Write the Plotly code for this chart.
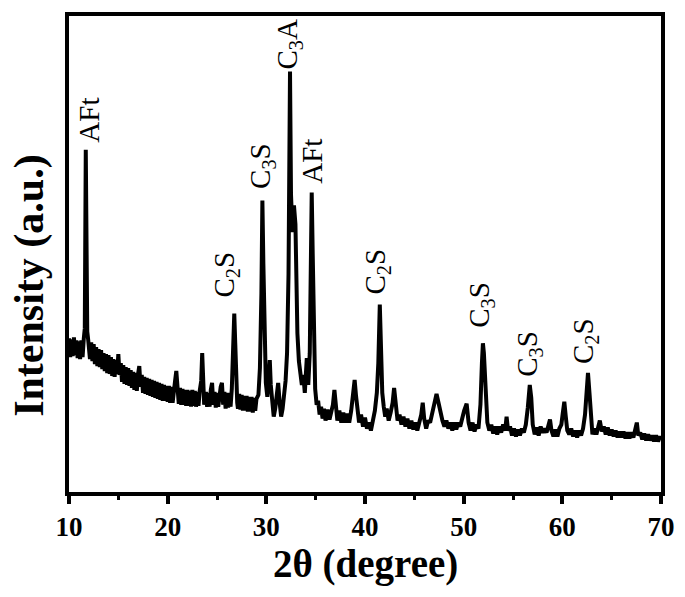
import plotly.graph_objects as go

pattern = [
    (10.000, 155), (10.125, 136), (10.250, 154), (10.375, 137), (10.500, 156), (10.625, 138),
    (10.750, 153), (10.875, 135), (11.000, 152), (11.125, 134), (11.250, 153), (11.375, 136),
    (11.500, 155), (11.600, 165), (11.700, 345), (11.780, 210), (11.850, 162), (11.950, 153),
    (12.125, 134), (12.250, 151), (12.375, 132), (12.500, 149), (12.625, 129), (12.750, 146),
    (12.875, 127), (13.000, 144), (13.125, 126), (13.250, 143), (13.375, 124), (13.500, 140),
    (13.625, 122), (13.750, 139), (13.875, 120), (14.000, 138), (14.125, 119), (14.250, 136),
    (14.375, 117), (14.500, 134), (14.625, 116), (14.750, 133), (14.875, 119), (15.000, 139),
    (15.125, 118), (15.250, 130), (15.375, 111), (15.500, 128), (15.625, 109), (15.750, 126),
    (15.875, 108), (16.000, 125), (16.125, 107), (16.250, 123), (16.375, 105), (16.500, 121),
    (16.625, 103), (16.750, 120), (16.875, 102), (17.000, 119), (17.125, 127), (17.250, 106),
    (17.375, 118), (17.500, 100), (17.625, 116), (17.750, 99), (17.875, 115), (18.000, 98),
    (18.125, 114), (18.250, 97), (18.375, 113), (18.500, 96), (18.625, 112), (18.750, 95),
    (18.875, 111), (19.000, 94), (19.125, 110), (19.250, 93), (19.375, 109), (19.500, 92),
    (19.625, 108), (19.750, 92), (19.875, 107), (20.000, 91), (20.125, 107), (20.250, 90),
    (20.375, 106), (20.500, 90), (20.625, 107), (20.750, 112), (20.875, 122), (21.000, 98),
    (21.125, 89), (21.250, 105), (21.375, 88), (21.500, 104), (21.625, 88), (21.750, 103),
    (21.875, 87), (22.000, 103), (22.125, 87), (22.250, 102), (22.375, 86), (22.500, 103),
    (22.625, 87), (22.750, 102), (22.875, 86), (23.000, 101), (23.125, 87), (23.250, 102),
    (23.400, 112), (23.500, 140), (23.600, 104), (23.700, 88), (23.875, 101), (24.000, 86),
    (24.125, 100), (24.250, 86), (24.375, 103), (24.500, 110), (24.625, 88), (24.750, 101),
    (24.875, 85), (25.000, 100), (25.125, 86), (25.250, 101), (25.375, 106), (25.500, 110),
    (25.625, 88), (25.750, 101), (25.875, 84), (26.000, 100), (26.125, 85), (26.250, 100),
    (26.375, 86), (26.500, 104), (26.600, 130), (26.750, 180), (26.850, 150), (26.950, 104),
    (27.050, 90), (27.125, 84), (27.250, 99), (27.375, 83), (27.500, 98), (27.625, 82),
    (27.750, 97), (27.875, 82), (28.000, 97), (28.125, 81), (28.250, 96), (28.375, 81),
    (28.500, 96), (28.625, 80), (28.750, 95), (28.875, 82), (29.000, 94), (29.200, 98),
    (29.350, 125), (29.500, 200), (29.600, 294), (29.700, 230), (29.800, 150), (29.950, 110),
    (30.100, 96), (30.250, 115), (30.350, 133), (30.450, 108), (30.600, 86), (30.750, 76),
    (30.900, 84), (31.050, 94), (31.200, 110), (31.350, 90), (31.500, 76), (31.650, 84),
    (31.800, 96), (31.950, 112), (32.100, 140), (32.250, 220), (32.400, 424), (32.500, 300),
    (32.650, 262), (32.800, 289), (32.950, 270), (33.050, 200), (33.150, 160), (33.300, 132),
    (33.450, 122), (33.600, 108), (33.750, 118), (33.900, 100), (34.100, 135), (34.250, 108),
    (34.400, 140), (34.500, 220), (34.600, 302), (34.700, 240), (34.800, 150), (34.950, 104),
    (35.100, 88), (35.250, 92), (35.400, 78), (35.550, 86), (35.700, 74), (35.850, 84),
    (36.000, 72), (36.200, 83), (36.400, 73), (36.600, 84), (36.750, 88), (36.900, 103),
    (37.050, 82), (37.200, 72), (37.400, 82), (37.600, 70), (37.800, 80), (38.000, 70),
    (38.200, 79), (38.400, 70), (38.600, 82), (38.800, 98), (38.950, 113), (39.100, 96),
    (39.250, 80), (39.400, 70), (39.600, 78), (39.800, 66), (40.000, 75), (40.200, 64),
    (40.400, 70), (40.600, 62), (40.800, 72), (41.000, 82), (41.200, 100), (41.350, 130),
    (41.500, 189), (41.600, 150), (41.750, 100), (41.900, 86), (42.050, 76), (42.200, 84),
    (42.400, 72), (42.600, 80), (42.800, 90), (42.950, 105), (43.100, 86), (43.300, 72),
    (43.500, 78), (43.700, 68), (43.900, 76), (44.100, 66), (44.300, 74), (44.500, 64),
    (44.700, 72), (44.900, 63), (45.100, 70), (45.300, 62), (45.500, 70), (45.700, 78),
    (45.850, 90), (46.000, 74), (46.200, 64), (46.400, 72), (46.600, 70), (46.800, 80),
    (47.000, 90), (47.250, 99), (47.450, 90), (47.650, 80), (47.850, 72), (48.050, 66),
    (48.250, 72), (48.450, 64), (48.650, 70), (48.850, 62), (49.050, 70), (49.250, 63),
    (49.450, 70), (49.650, 66), (49.850, 76), (50.050, 82), (50.300, 89), (50.500, 70),
    (50.700, 62), (50.900, 70), (51.100, 61), (51.300, 68), (51.500, 64), (51.700, 88),
    (51.850, 130), (51.950, 150), (52.050, 140), (52.200, 100), (52.400, 70), (52.600, 62),
    (52.800, 68), (53.000, 59), (53.200, 66), (53.400, 58), (53.600, 66), (53.800, 60),
    (54.000, 68), (54.200, 62), (54.350, 76), (54.500, 62), (54.700, 66), (54.900, 57),
    (55.100, 64), (55.300, 56), (55.500, 63), (55.700, 57), (55.900, 64), (56.100, 60),
    (56.300, 68), (56.500, 85), (56.700, 108), (56.850, 95), (57.000, 68), (57.200, 58),
    (57.400, 65), (57.600, 57), (57.800, 66), (58.000, 60), (58.200, 64), (58.400, 60),
    (58.600, 70), (58.750, 73), (58.900, 62), (59.100, 56), (59.300, 63), (59.500, 56),
    (59.700, 64), (59.900, 68), (60.050, 80), (60.200, 91), (60.350, 76), (60.500, 62),
    (60.700, 58), (60.900, 64), (61.100, 56), (61.300, 62), (61.500, 55), (61.700, 62),
    (61.900, 57), (62.100, 64), (62.300, 78), (62.450, 100), (62.600, 120), (62.750, 100),
    (62.900, 70), (63.050, 58), (63.250, 64), (63.450, 58), (63.650, 66), (63.800, 72),
    (64.000, 61), (64.200, 66), (64.400, 58), (64.600, 65), (64.800, 57), (65.000, 63),
    (65.200, 56), (65.400, 62), (65.600, 55), (65.800, 61), (66.000, 55), (66.200, 61),
    (66.400, 54), (66.600, 60), (66.800, 54), (67.000, 60), (67.200, 55), (67.400, 65),
    (67.550, 70), (67.700, 57), (67.900, 60), (68.100, 53), (68.300, 59), (68.500, 52),
    (68.700, 58), (68.900, 52), (69.100, 57), (69.300, 51), (69.500, 57), (69.700, 51),
    (69.900, 56), (70.000, 53),
]
two_theta = [p[0] for p in pattern]
intensity = [p[1] for p in pattern]

# phase labels: text, label centre (degree), label base (a.u.)
label_text = ["AFt", "C<sub>2</sub>S", "C<sub>3</sub>S", "C<sub>3</sub>A", "AFt",
              "C<sub>2</sub>S", "C<sub>3</sub>S", "C<sub>3</sub>S", "C<sub>2</sub>S"]
label_x = [12.05, 25.9, 29.5, 32.2, 34.6, 41.2, 51.8, 56.6, 62.3]
label_y = [350, 194, 304, 424, 309, 197, 164, 114, 127]

x_ticks = [10, 20, 30, 40, 50, 60, 70]

serif = "Liberation Serif, Times New Roman, serif"

fig = go.Figure()
fig.add_trace(go.Scatter(
    x=two_theta, y=intensity, mode="lines",
    line=dict(color="black", width=4),
    showlegend=False, hoverinfo="skip",
))

for t, lx, ly in zip(label_text, label_x, label_y):
    fig.add_annotation(
        x=lx, y=ly, xref="x", yref="y", text=t, showarrow=False,
        textangle=-90, xanchor="center", yanchor="bottom",
        font=dict(family=serif, size=29, color="black"),
    )

fig.add_annotation(
    x=-0.066, y=0.435, xref="paper", yref="paper",
    text="<b>Intensity (a.u.)</b>", showarrow=False, textangle=-90,
    xanchor="center", yanchor="middle",
    font=dict(family=serif, size=42, color="black"),
)
fig.add_annotation(
    x=0.5, y=-0.152, xref="paper", yref="paper",
    text="<b>2θ (degree)</b>", showarrow=False,
    xanchor="center", yanchor="middle",
    font=dict(family=serif, size=39, color="black"),
)

# the page adds an 8 px body margin, so the figure is sized to fit the window
fig.update_layout(
    width=677, height=589,
    margin=dict(l=61, r=24, t=4, b=105),
    paper_bgcolor="white", plot_bgcolor="white",
    xaxis=dict(
        range=[10, 70], tickvals=x_ticks, ticktext=[str(v) for v in x_ticks],
        ticks="outside", ticklen=8, tickwidth=3.5, tickcolor="black",
        minor=dict(dtick=5, tick0=0, ticks="outside", ticklen=4, tickwidth=3, tickcolor="black"),
        showline=True, linewidth=4, linecolor="black", mirror=True,
        showgrid=False, zeroline=False,
        tickfont=dict(family=serif, size=27, color="black", weight="bold"),
    ),
    yaxis=dict(
        range=[0, 480], showticklabels=False, ticks="",
        showline=True, linewidth=4, linecolor="black", mirror=True,
        showgrid=False, zeroline=False,
    ),
)

fig.write_html("out.html")
